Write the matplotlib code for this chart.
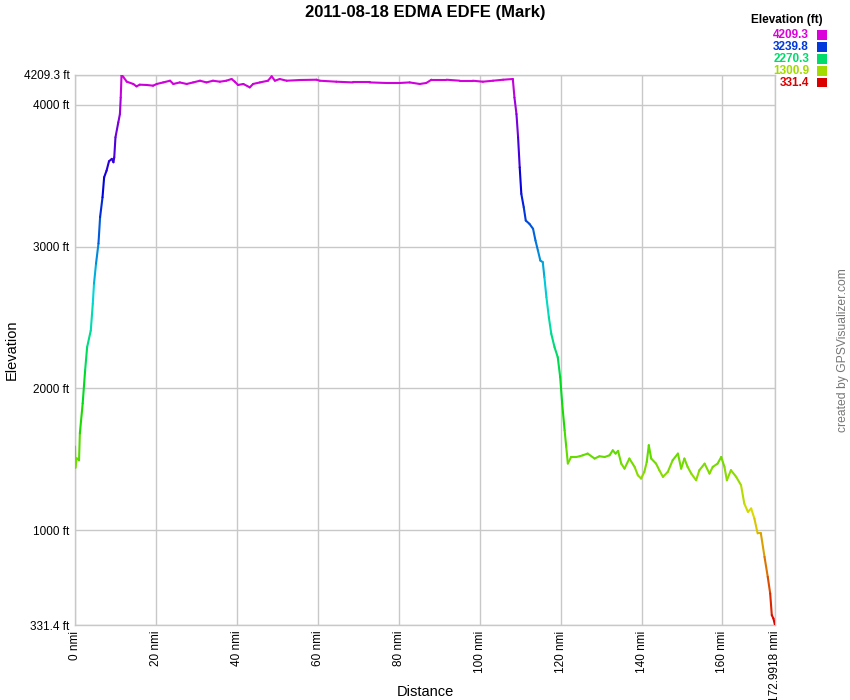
import numpy as np
import matplotlib
matplotlib.use("Agg")
import matplotlib.pyplot as plt
from matplotlib.collections import LineCollection
from matplotlib.colors import ListedColormap, Normalize, hsv_to_rgb
from matplotlib.patches import Rectangle

plt.rcParams['font.family'] = ['Liberation Sans', 'DejaVu Sans']

title = "2011-08-18 EDMA EDFE (Mark)"

# distance (nmi) and elevation (ft)
dist_climb = [0.0, 0.1, 0.4, 1.0, 1.2, 1.9, 2.5, 3.0, 3.9, 4.4, 4.7, 5.2, 5.8, 6.2,
              6.8, 7.2, 7.8, 8.4, 9.1, 9.5, 9.7, 10.0, 10.7, 11.1, 11.3, 11.5]
elev_climb = [1590, 1440, 1507, 1493, 1683, 1894, 2127, 2291, 2408, 2598, 2739, 2880, 3021, 3207,
              3347, 3488, 3535, 3601, 3618, 3594, 3629, 3770, 3875, 3934, 4051, 4209.3]

dist_cruise = [11.9, 12.8, 14.4, 15.2, 16.0, 17.7, 19.3, 20.2, 21.8, 23.5, 24.3, 25.9, 27.6,
               29.2, 30.9, 32.5, 34.1, 35.8, 37.4, 38.7, 39.5, 40.3, 41.6, 43.2, 44.0, 45.7,
               47.7, 48.6, 49.4, 50.6, 52.3, 55.6, 59.7, 60.5, 64.6, 68.7, 72.8, 77.0, 80.2,
               82.7, 85.2, 86.8, 88.1, 91.8, 95.1, 98.3, 100.8, 103.3, 105.8, 108.2]
elev_cruise = [4197, 4162, 4146, 4129, 4141, 4139, 4134, 4146, 4157, 4169, 4146, 4157, 4146,
               4157, 4169, 4157, 4169, 4162, 4169, 4181, 4162, 4139, 4146, 4122, 4146, 4157,
               4169, 4200, 4169, 4181, 4169, 4174, 4176, 4169, 4162, 4157, 4157, 4153, 4153,
               4157, 4146, 4153, 4176, 4176, 4169, 4169, 4162, 4169, 4176, 4181]

dist_descent = [108.6, 109.1, 109.5, 109.9, 110.3, 110.9, 111.4, 112.3, 113.2, 113.8, 114.4,
                115.0, 115.6, 116.0, 116.5, 117.1, 117.7, 118.5, 119.3, 119.9, 120.4, 121.0,
                121.4, 121.8]
elev_descent = [4051, 3934, 3770, 3558, 3371, 3277, 3183, 3160, 3125, 3042, 2972,
                2901, 2890, 2784, 2643, 2502, 2385, 2291, 2220, 2080, 1892, 1704,
                1587, 1470]

dist_low = [122.6, 123.9, 124.7, 125.5, 126.7, 128.4, 129.6, 130.9, 132.1, 132.9, 133.6, 134.2,
            135.0, 135.8, 137.0, 138.3, 139.1, 139.9, 140.7, 141.3, 141.8, 142.4, 143.6, 144.4,
            145.3, 146.5, 147.7, 149.0, 149.8, 150.6, 151.4, 152.3, 153.5, 154.3, 155.6, 156.8,
            157.6, 158.8, 159.7, 160.5, 161.1, 162.1, 163.4, 164.6, 165.4, 166.3, 167.1, 167.9,
            168.7, 169.5, 170.4, 171.2, 171.8, 172.2, 172.6, 172.9918]
elev_low = [1516, 1516, 1521, 1528, 1540, 1505, 1521, 1516, 1528, 1563, 1540, 1559,
            1469, 1434, 1505, 1446, 1387, 1364, 1411, 1481, 1599, 1505, 1469, 1423,
            1376, 1411, 1493, 1540, 1434, 1505, 1446, 1399, 1352, 1423, 1469, 1399,
            1446, 1469, 1516, 1446, 1352, 1423, 1376, 1317, 1188, 1129, 1153, 1082,
            977, 977, 812, 671, 554, 401, 377, 331.4]

legend_values = [4209.3, 3239.8, 2270.3, 1300.9, 331.4]
x_ticks = [0, 20, 40, 60, 80, 100, 120, 140, 160, 172.9918]
x_labels = ["0 nmi", "20 nmi", "40 nmi", "60 nmi", "80 nmi", "100 nmi", "120 nmi",
            "140 nmi", "160 nmi", "172.9918 nmi"]
y_ticks = [331.4, 1000, 2000, 3000, 4000, 4209.3]
y_labels = ["331.4 ft", "1000 ft", "2000 ft", "3000 ft", "4000 ft", "4209.3 ft"]

dist = np.array(dist_climb + dist_cruise + dist_descent + dist_low)
elev = np.array(elev_climb + elev_cruise + elev_descent + elev_low)

ymin, ymax = 331.4, 4209.3
hues = np.linspace(0, 300 / 360, 256)
cmap = ListedColormap(hsv_to_rgb(np.stack([hues, np.ones_like(hues), np.full_like(hues, 0.86)], axis=1)))
norm = Normalize(ymin, ymax)

fig = plt.figure(figsize=(8.5, 7), dpi=100)
ax = fig.add_axes([75 / 850, 75 / 700, 700 / 850, 550 / 700])

pts = np.column_stack([dist, elev]).reshape(-1, 1, 2)
segs = np.concatenate([pts[:-1], pts[1:]], axis=1)
lc = LineCollection(segs, cmap=cmap, norm=norm, linewidths=1.5, capstyle='round', joinstyle='round', zorder=3)
lc.set_array((elev[:-1] + elev[1:]) / 2)
ax.add_collection(lc)

ax.set_xlim(0, 172.9918)
ax.set_ylim(ymin, ymax)
ax.set_xticks(x_ticks)
ax.set_xticklabels(x_labels, rotation=90, fontsize=8.5, va='top', ha='center')
ax.set_yticks(y_ticks)
ax.set_yticklabels(y_labels, fontsize=8.5)
ax.tick_params(length=0, pad=4)
ax.grid(True, color='#c8c8c8', linewidth=1)
for s in ax.spines.values():
    s.set_color('#c8c8c8')
    s.set_linewidth(1)
ax.set_axisbelow(True)

fig.text(425 / 850, 1 - 12 / 700, title, ha='center', va='center', fontsize=12, fontweight='bold')
fig.text(12 / 850, 1 - 350 / 700, "Elevation", rotation=90, ha='center', va='center', fontsize=10.5)
fig.text(425 / 850, 1 - 692 / 700, "Distance", ha='center', va='center', fontsize=10.5)
fig.text(843 / 850, 1 - 350 / 700, "created by GPSVisualizer.com", rotation=90,
         ha='center', va='center', fontsize=8.7, color='#777777')

fig.text(823 / 850, 1 - 20.5 / 700, "Elevation (ft)", ha='right', va='center', fontsize=8.5, fontweight='bold')
row_y = [35, 47, 59, 71, 82.5]
for v, yy in zip(legend_values, row_y):
    c = cmap(norm(v))
    fig.text(809 / 850, 1 - yy / 700, f"{v:.1f}", ha='right', va='center', fontsize=8.5,
             fontweight='bold', color=c)
    fig.patches.append(Rectangle((817 / 850, 1 - (yy + 4.5) / 700), 9.5 / 850, 9 / 700,
                                 transform=fig.transFigure, facecolor=c, edgecolor='none'))

fig.savefig("out.png", dpi=100)
